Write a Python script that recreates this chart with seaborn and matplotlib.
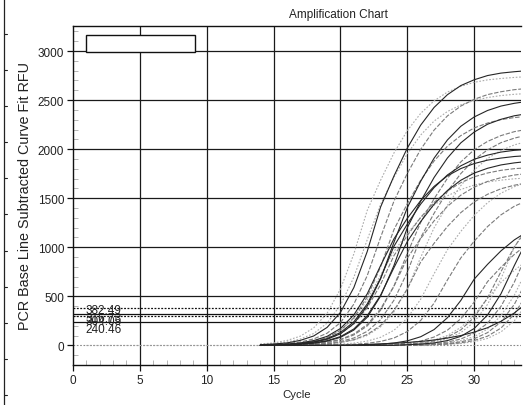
import matplotlib
matplotlib.use("Agg")
import matplotlib.pyplot as plt
from matplotlib.patches import Rectangle
from matplotlib.lines import Line2D
from matplotlib.ticker import MultipleLocator
import numpy as np
import pandas as pd
import seaborn as sns

# cycles where the fitted curves are drawn (before 14 everything sits on 0)
CYCLES = list(range(14, 35))

# early wells, high plateau
w01 = [14, 25, 50, 94, 179, 327, 575, 932, 1375, 1683, 1961, 2189, 2365, 2492, 2582, 2640, 2681, 2706, 2720, 2731, 2739]
w02 = [7, 14, 25, 51, 96, 183, 336, 589, 956, 1410, 1726, 2011, 2245, 2425, 2555, 2648, 2707, 2750, 2775, 2789, 2800]
w03 = [0, 9, 18, 34, 66, 124, 232, 420, 710, 1101, 1470, 1753, 1998, 2194, 2339, 2439, 2508, 2556, 2585, 2606, 2619]
w04 = [9, 17, 34, 65, 121, 227, 410, 694, 1076, 1437, 1713, 1953, 2144, 2286, 2384, 2451, 2497, 2526, 2546, 2559, 2567]
w05 = [0, 0, 9, 17, 33, 63, 118, 222, 401, 678, 1051, 1404, 1673, 1908, 2094, 2233, 2328, 2394, 2439, 2467, 2487]
w06 = [0, 6, 12, 21, 42, 80, 153, 281, 493, 800, 1180, 1444, 1683, 1879, 2030, 2138, 2216, 2266, 2301, 2322, 2334]
w07 = [0, 0, 6, 12, 22, 43, 82, 156, 286, 502, 814, 1200, 1469, 1711, 1910, 2064, 2174, 2254, 2304, 2340, 2362]
w08 = [0, 0, 0, 8, 15, 29, 56, 106, 198, 358, 605, 938, 1253, 1494, 1703, 1870, 1994, 2079, 2138, 2178, 2203]
w09 = [0, 0, 0, 6, 11, 20, 40, 75, 143, 262, 460, 746, 1100, 1346, 1569, 1751, 1892, 1993, 2066, 2112, 2145]
w10 = [0, 0, 0, 0, 7, 14, 28, 54, 101, 189, 342, 578, 897, 1198, 1428, 1628, 1787, 1905, 1987, 2043, 2081]
w11 = [0, 5, 10, 18, 36, 69, 131, 240, 422, 685, 1010, 1236, 1440, 1608, 1737, 1830, 1897, 1939, 1970, 1988, 1998]
w12 = [0, 7, 13, 25, 49, 92, 172, 310, 525, 813, 1086, 1295, 1476, 1620, 1728, 1802, 1853, 1888, 1909, 1925, 1934]
w13 = [0, 0, 6, 13, 25, 48, 89, 167, 302, 511, 792, 1058, 1262, 1438, 1579, 1683, 1756, 1805, 1839, 1860, 1875]
w14 = [0, 5, 9, 16, 33, 62, 119, 218, 382, 620, 915, 1120, 1305, 1457, 1574, 1658, 1718, 1757, 1784, 1801, 1810]
w15 = [0, 0, 4, 9, 16, 32, 61, 116, 212, 372, 603, 890, 1089, 1269, 1417, 1531, 1613, 1671, 1709, 1736, 1752]
w16 = [0, 6, 12, 22, 43, 81, 151, 273, 463, 717, 958, 1142, 1302, 1429, 1524, 1589, 1634, 1665, 1684, 1698, 1706]
w17 = [0, 0, 0, 4, 9, 15, 31, 58, 111, 202, 355, 576, 850, 1040, 1212, 1353, 1462, 1540, 1596, 1632, 1658]

# middle wells
w18 = [0, 0, 0, 0, 0, 6, 12, 23, 44, 82, 154, 278, 471, 730, 975, 1162, 1325, 1454, 1551, 1617, 1663]
w19 = [0, 0, 0, 0, 0, 0, 5, 11, 21, 40, 75, 141, 254, 430, 667, 891, 1062, 1211, 1330, 1418, 1478]
w20 = [0, 0, 0, 0, 0, 0, 0, 3, 7, 12, 24, 46, 88, 161, 282, 458, 675, 826, 963, 1075, 1161]
w21 = [0, 0, 0, 0, 0, 0, 0, 0, 3, 7, 12, 23, 44, 85, 155, 272, 441, 650, 796, 927, 1035]
w22 = [0, 0, 0, 0, 0, 0, 0, 0, 0, 4, 8, 15, 29, 54, 101, 183, 309, 480, 641, 764, 871]

# late wells
w23 = [0, 0, 0, 0, 0, 0, 0, 0, 0, 0, 6, 12, 23, 45, 85, 158, 286, 484, 751, 1003, 1195]
w24 = [0, 0, 0, 0, 0, 0, 0, 0, 0, 0, 5, 10, 18, 36, 68, 130, 238, 418, 678, 1000, 1224]
w25 = [0, 0, 0, 0, 0, 0, 0, 0, 0, 0, 0, 7, 13, 25, 49, 92, 172, 310, 525, 813, 1086]
w26 = [0, 0, 0, 0, 0, 0, 0, 0, 0, 0, 0, 5, 10, 17, 34, 65, 124, 226, 397, 644, 950]
w27 = [0, 0, 0, 0, 0, 0, 0, 0, 0, 0, 0, 0, 6, 13, 25, 48, 89, 167, 302, 511, 792]
w28 = [0, 0, 0, 0, 0, 0, 0, 0, 0, 0, 0, 0, 5, 10, 18, 36, 68, 130, 238, 418, 678]
w29 = [0, 0, 0, 0, 0, 0, 0, 0, 0, 0, 0, 0, 0, 7, 13, 26, 50, 94, 176, 318, 538]
w30 = [0, 0, 0, 0, 0, 0, 0, 0, 10, 15, 22, 30, 40, 55, 75, 100, 135, 180, 245, 330, 440]
w31 = [0, 0, 0, 0, 0, 0, 0, 0, 0, 0, 0, 0, 0, 5, 11, 19, 38, 71, 137, 250, 439]

BASE_CYCLES = [1, 14]
BASE_RFU = [0, 0]

THRESHOLDS = [382.49, 316.73, 304.05, 240.46]
THRESHOLD_LABELS = ["382.49", "316.73", "304.05", "240.46"]

X_TICKS = [0, 5, 10, 15, 20, 25, 30]
Y_TICKS = [0, 500, 1000, 1500, 2000, 2500, 3000]

curves = {
    "w01": w01, "w02": w02, "w03": w03, "w04": w04, "w05": w05, "w06": w06,
    "w07": w07, "w08": w08, "w09": w09, "w10": w10, "w11": w11, "w12": w12,
    "w13": w13, "w14": w14, "w15": w15, "w16": w16, "w17": w17, "w18": w18,
    "w19": w19, "w20": w20, "w21": w21, "w22": w22, "w23": w23, "w24": w24,
    "w25": w25, "w26": w26, "w27": w27, "w28": w28, "w29": w29, "w30": w30,
    "w31": w31,
}

# which wells print dark/solid vs. the faint dashed ones in the scan
solid = ["w02", "w05", "w07", "w11", "w12", "w13", "w20", "w25", "w30"]
dashed = ["w03", "w06", "w08", "w09", "w14", "w15", "w17", "w19", "w21", "w23", "w26", "w28", "w29"]

rows = []
for name, vals in curves.items():
    if name in solid:
        kind = "solid"
    elif name in dashed:
        kind = "dashed"
    else:
        kind = "dotted"
    for c, v in zip(CYCLES, vals):
        rows.append((name, kind, c, v))
df = pd.DataFrame(rows, columns=["Well", "Kind", "Cycle", "RFU"])

sns.set_theme(style="white")
plt.rcParams["font.family"] = ["Liberation Sans", "DejaVu Sans"]

W, H = 528, 406
fig = plt.figure(figsize=(W / 100, H / 100), dpi=100)
ax = fig.add_axes([73 / W, 40 / H, 448 / W, 339 / H])

ax.set_xlim(0, 33.5)
ax.set_ylim(-200, 3255)

# grid drawn by hand so the 0 level can stay faint like the scan
for x in X_TICKS[1:]:
    ax.axvline(x, color="#1a1a1a", lw=0.9, zorder=1)
for y in Y_TICKS[1:]:
    ax.axhline(y, color="#1a1a1a", lw=0.9, zorder=1)
ax.axhline(0, color="#888888", lw=0.8, ls=(0, (1.5, 1.5)), zorder=1)

# thresholds, labels stacked (and overlapping) at the left like the original
for i, (t, lab) in enumerate(zip(THRESHOLDS, THRESHOLD_LABELS)):
    ax.axhline(t, color="#111111", lw=0.9, ls="-" if i % 2 else (0, (1.5, 1.2)), zorder=2)
    ax.text(0.95, t - 25 - 15 * i, lab, fontsize=8.5, ha="left", va="center", color="#222222", zorder=6)

ax.plot(BASE_CYCLES, BASE_RFU, color="#999999", lw=0.8, ls=(0, (1.5, 1.5)), zorder=3)

sns.lineplot(
    data=df, x="Cycle", y="RFU", units="Well", estimator=None,
    hue="Kind", style="Kind",
    hue_order=["dotted", "dashed", "solid"],
    palette={"solid": "#262626", "dashed": "#7a7a7a", "dotted": "#ababab"},
    dashes={"solid": "", "dashed": (4, 1.5), "dotted": (1.5, 1.5)},
    linewidth=0.8, legend=False, ax=ax, zorder=4,
)

# empty legend box
ax.add_patch(Rectangle((1.0, 2990), 8.1, 170, facecolor="white", edgecolor="#111111", lw=1.0, zorder=5))

ax.set_xticks(X_TICKS)
ax.set_yticks(Y_TICKS)
ax.xaxis.set_minor_locator(MultipleLocator(1))
ax.yaxis.set_minor_locator(MultipleLocator(100))
ax.tick_params(axis="both", which="major", direction="out", length=4.3, width=0.9,
               color="#111111", labelsize=8.5, pad=2, bottom=True, left=True, labelcolor="#222222")
ax.tick_params(axis="both", which="minor", direction="in", length=3.5, width=0.6,
               color="#aaaaaa", bottom=True, left=True)

for side in ["left", "top", "bottom"]:
    ax.spines[side].set_color("#111111")
    ax.spines[side].set_linewidth(1.0)
ax.spines["right"].set_visible(False)

ax.set_xlabel("Cycle", fontsize=8.2, labelpad=2.5, color="#222222")
ax.set_ylabel("PCR Base Line Subtracted Curve Fit RFU", fontsize=10.4, labelpad=4, color="#222222")

fig.text(338 / W, 1 - 15 / H, "Amplification Chart", ha="center", va="center", fontsize=8.5, color="#222222")

# edge of the neighbouring window in the scan
fig.add_artist(Line2D([3.5 / W, 3.5 / W], [0, 1], color="#222222", lw=0.9))
for py in np.arange(35, 400, 36.1):
    fig.add_artist(Line2D([3.5 / W, 7 / W], [1 - py / H, 1 - py / H], color="#222222", lw=0.8))

fig.savefig("out.png", dpi=100)
